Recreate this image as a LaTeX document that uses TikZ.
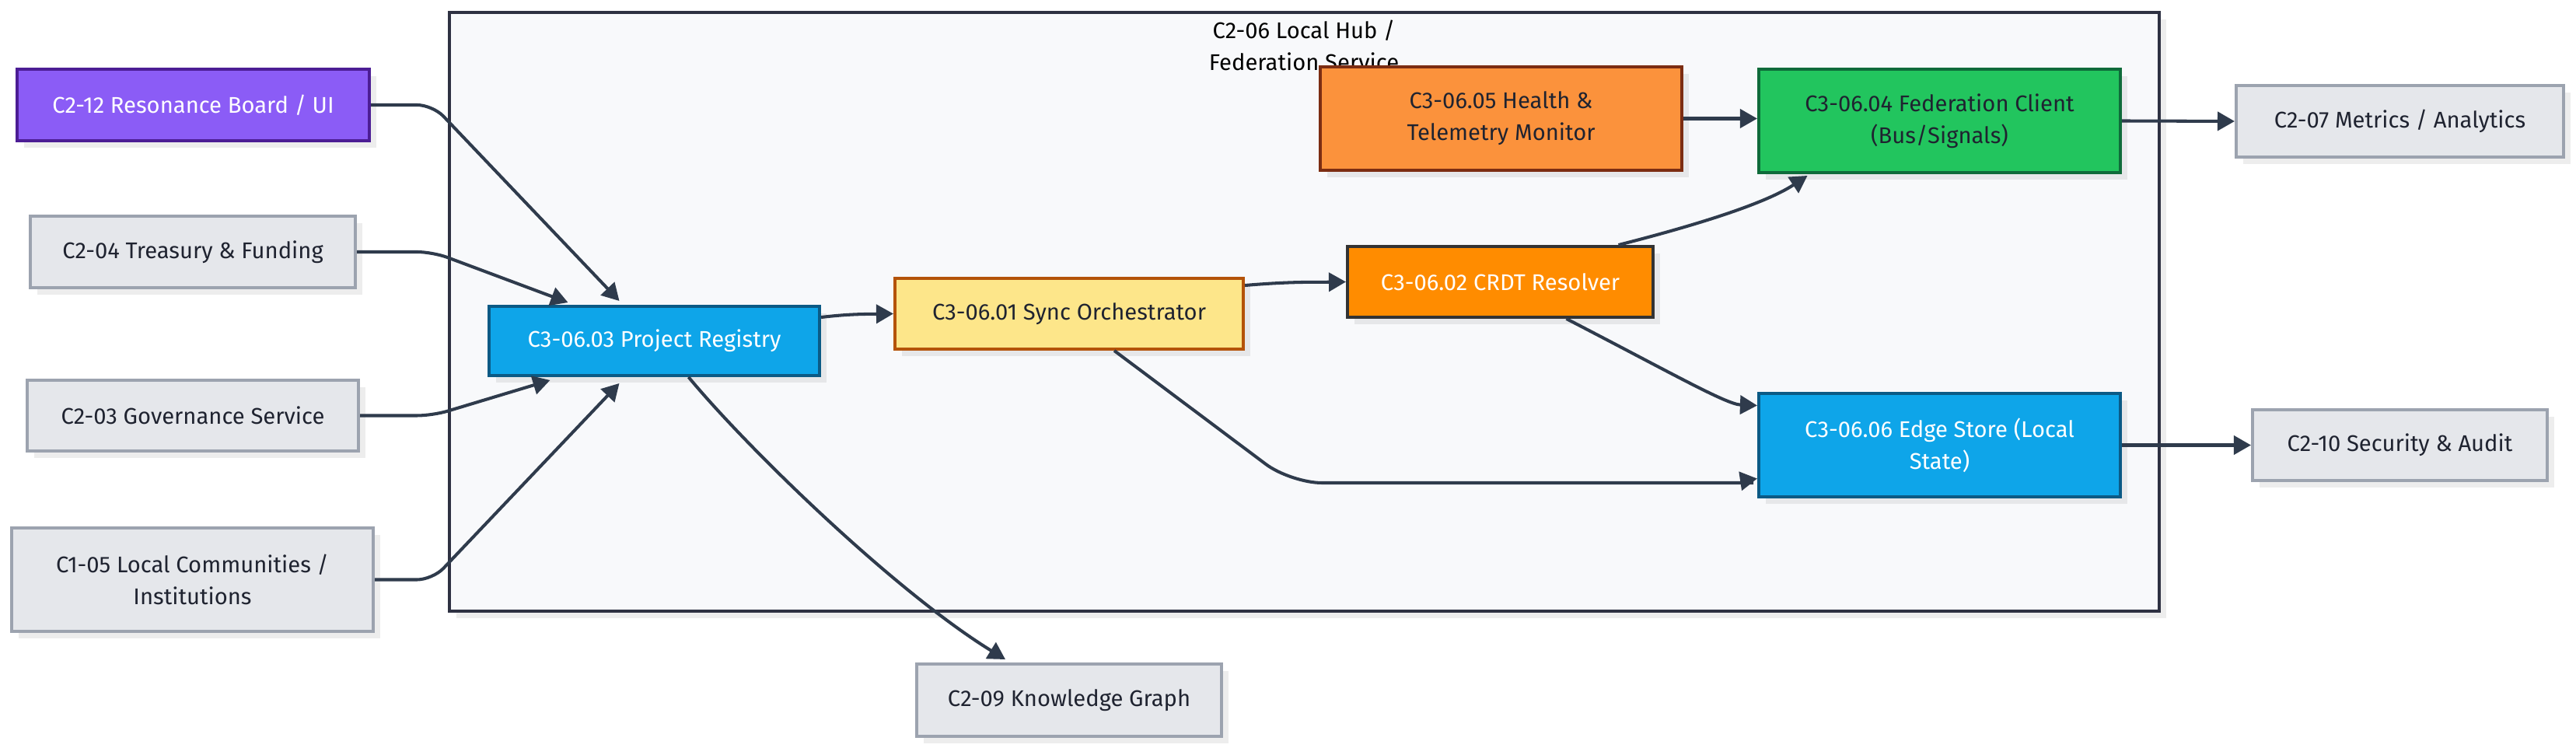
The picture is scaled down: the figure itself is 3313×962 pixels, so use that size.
\documentclass[tikz,border=0pt]{standalone}
\usepackage{fontspec}
\setmainfont{Fira Sans}
\usetikzlibrary{arrows.meta,shadows,calc}
\definecolor{cgray}{HTML}{E5E7EB}
\definecolor{cgrayb}{HTML}{9CA3AF}
\definecolor{ctext}{HTML}{1F2330}
\definecolor{cpurp}{HTML}{8B5CF6}
\definecolor{cpurpb}{HTML}{4C1D95}
\definecolor{csky}{HTML}{0EA5E9}
\definecolor{cskyb}{HTML}{0B5A85}
\definecolor{cyel}{HTML}{FDE68A}
\definecolor{cyelb}{HTML}{B45309}
\definecolor{corg}{HTML}{FB923C}
\definecolor{corgb}{HTML}{7C2D12}
\definecolor{cdorg}{HTML}{FF8C00}
\definecolor{cdorgb}{HTML}{333333}
\definecolor{cgreen}{HTML}{22C55E}
\definecolor{cgreenb}{HTML}{0F6B3A}
\definecolor{chub}{HTML}{F8F9FB}
\definecolor{chubb}{HTML}{2E3142}
\definecolor{cedge}{HTML}{2F3B4C}
\tikzset{
  base/.style={draw, line width=1.1pt, align=center, inner sep=0pt, text=ctext,
    font=\fontsize{8.3}{11.7}\selectfont,
    drop shadow={shadow xshift=0.09cm, shadow yshift=-0.09cm, fill=black, opacity=0.07}},
  ext/.style={base, fill=cgray, draw=cgrayb},
  purp/.style={base, fill=cpurp, draw=cpurpb, text=white},
  sky/.style={base, fill=csky, draw=cskyb, text=white},
  yel/.style={base, fill=cyel, draw=cyelb},
  org/.style={base, fill=corg, draw=corgb},
  dorg/.style={base, fill=cdorg, draw=cdorgb, text=white},
  grn/.style={base, fill=cgreen, draw=cgreenb},
  arr/.style={draw=cedge, line width=1.15pt, -{Triangle[length=2.2mm,width=2.4mm]}},
}
\begin{document}
\begin{tikzpicture}[x=0.01cm,y=-0.01cm]
\useasboundingbox[fill=white] (0,0) rectangle (3313,962);
% container
\node (hub) [draw=chubb, fill=chub, line width=1.1pt, minimum width=21.97cm, minimum height=7.70cm, inner sep=0pt,
  drop shadow={shadow xshift=0.09cm, shadow yshift=-0.09cm, fill=black, opacity=0.07}] at (1677.5,401) {};
\node (hubtitle) [align=center, text=black, font=\fontsize{8.3}{11.7}\selectfont] at (1677,58) {C2-06 Local Hub /\\Federation Service};
% external nodes
\node (res) [purp, minimum width=4.53cm, minimum height=0.92cm] at (248.5,135) {C2-12 Resonance Board / UI};
\node (tre) [ext, minimum width=4.18cm, minimum height=0.92cm] at (248,324) {C2-04 Treasury \& Funding};
\node (gov) [ext, minimum width=4.26cm, minimum height=0.91cm] at (248,534.5) {C2-03 Governance Service};
\node (loc) [ext, minimum width=4.65cm, minimum height=1.33cm] at (247.5,745.5) {C1-05 Local Communities /\\Institutions};
\node (kg)  [ext, minimum width=3.92cm, minimum height=0.93cm] at (1375,900.5) {C2-09 Knowledge Graph};
\node (met) [ext, minimum width=4.21cm, minimum height=0.92cm] at (3086.5,156) {C2-07 Metrics / Analytics};
\node (sec) [ext, minimum width=3.79cm, minimum height=0.91cm] at (3086.5,572.5) {C2-10 Security \& Audit};
% inner nodes
\node (reg)  [sky, minimum width=4.25cm, minimum height=0.89cm] at (841.5,438.5) {C3-06.03 Project Registry};
\node (syn)  [yel, minimum width=4.48cm, minimum height=0.91cm] at (1375,403.5) {C3-06.01 Sync Orchestrator};
\node (crdt) [dorg, minimum width=3.93cm, minimum height=0.91cm] at (1929.5,362.5) {C3-06.02 CRDT Resolver};
\node (hea)  [org, minimum width=4.65cm, minimum height=1.33cm] at (1930.5,152.5) {C3-06.05 Health \&\\Telemetry Monitor};
\node (fed)  [grn, minimum width=4.65cm, minimum height=1.33cm] at (2494.5,155.5) {C3-06.04 Federation Client\\(Bus/Signals)};
\node (edge) [sky, minimum width=4.65cm, minimum height=1.33cm] at (2494.5,572.5) {C3-06.06 Edge Store (Local\\State)};
% connectors
\draw[arr, rounded corners=2mm] (res.east) -- ($(res.east -| hub.west)+(-20,0)$) -- ($(reg.north)+(-45,-5)$);
\draw[arr, rounded corners=2mm] (tre.east) -- ($(tre.east -| hub.west)+(-20,0)$) -- ($(reg.north)+(-111,-3)$);
\draw[arr, rounded corners=2mm] (gov.east) -- ($(gov.east -| hub.west)+(-20,0)$) -- ($(reg.south)+(-134,4)$);
\draw[arr, rounded corners=2mm] (loc.east) -- ($(loc.east -| hub.west)+(-20,0)$) -- ($(reg.south)+(-45,8)$);
\draw[arr] ($(reg.south)+(44,0)$) .. controls (960,575) and (1150,760) .. ($(kg.north)+(-82,-4)$);
\draw[arr] ($(reg.north east)+(0,16)$) .. controls (1090,404) and (1110,404) .. (syn.west);
\draw[arr] ($(syn.north east)+(0,11)$) .. controls (1660,362) and (1690,363) .. (crdt.west);
\draw[arr, rounded corners=4mm] ($(syn.south)+(58,0)$) -- (1660,621) -- (2215,621) .. controls (2240,621) and (2250,617) .. ($(edge.west)+(0,43)$);
\draw[arr] ($(crdt.north)+(152,0)$) .. controls (2180,290) and (2270,262) .. ($(fed.south)+(-170,2)$);
\draw[arr] ($(crdt.south)+(85,0)$) .. controls (2150,480) and (2220,520) .. ($(edge.west)+(0,-51)$);
\draw[arr] (hea.east) -- (hea.east -| fed.west);
\draw[arr] (fed.east) -- (met.west);
\draw[arr] (edge.east) -- (sec.west);
\end{tikzpicture}
\end{document}
